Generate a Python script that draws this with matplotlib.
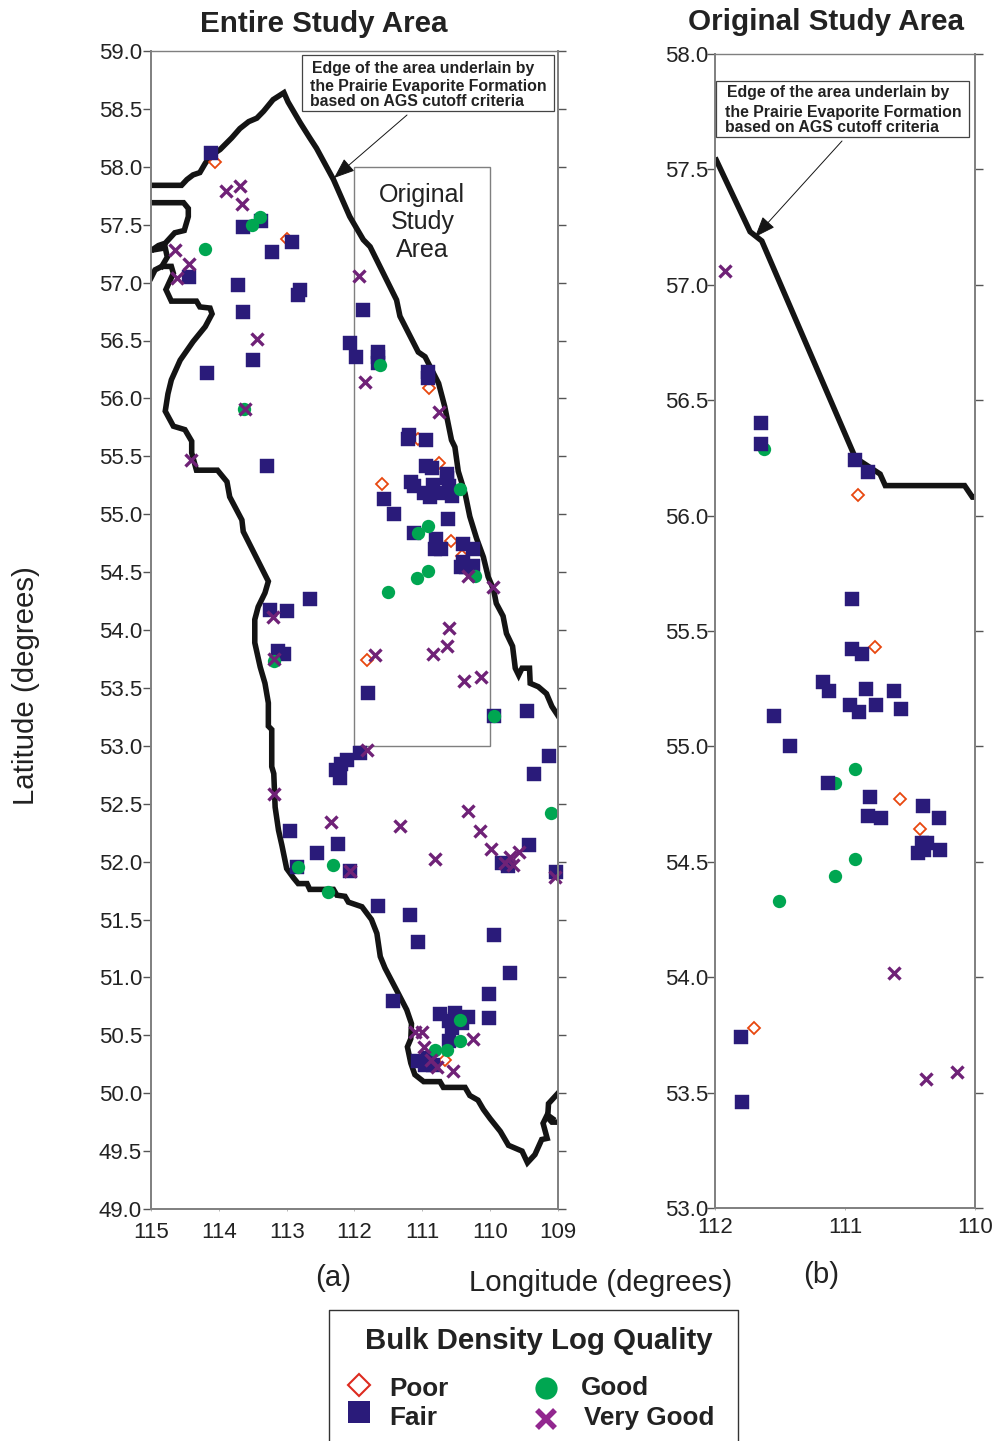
import matplotlib
matplotlib.use('Agg')
import matplotlib.pyplot as plt
from matplotlib.lines import Line2D
from matplotlib.patches import Rectangle

plt.rcParams['font.family'] = ['Liberation Sans', 'DejaVu Sans']

W, H = 995, 1441

# boundary of the formation, entire study area (lon, lat)
edge_east_lon = [115.0, 114.55, 114.47, 114.38, 114.28, 114.20, 114.13, 113.98, 113.81, 113.69, 113.56, 113.44,
                 113.34, 113.20, 113.04, 112.98, 112.80, 112.66, 112.56, 112.31, 112.07, 111.87, 111.77, 111.38,
                 111.33, 111.06, 110.96, 110.76, 110.67, 110.57, 110.52, 110.47, 110.37, 110.30, 110.20, 110.10,
                 110.03, 109.95, 109.91, 109.81, 109.76, 109.67, 109.63, 109.58, 109.53, 109.42, 109.41, 109.29,
                 109.17, 109.09, 109.00]
edge_east_lat = [57.84, 57.84, 57.89, 57.93, 57.95, 58.03, 58.09, 58.15, 58.25, 58.33, 58.39, 58.42,
                 58.48, 58.58, 58.64, 58.56, 58.38, 58.25, 58.16, 57.89, 57.57, 57.37, 57.31, 56.85,
                 56.71, 56.40, 56.36, 56.13, 55.93, 55.64, 55.58, 55.37, 55.18, 54.98, 54.79, 54.63,
                 54.46, 54.35, 54.23, 54.12, 53.97, 53.86, 53.67, 53.61, 53.67, 53.67, 53.54, 53.51,
                 53.45, 53.34, 53.26]
edge_north_lon = [115.0, 114.52, 114.45, 114.45, 114.51, 114.65, 114.79, 114.89, 114.99, 114.79, 114.76, 114.84]
edge_north_lat = [57.69, 57.69, 57.64, 57.57, 57.45, 57.43, 57.34, 57.32, 57.28, 57.30, 57.22, 57.14]
edge_west_lon = [115.0, 114.94, 114.84, 114.70, 114.67, 114.78, 114.70, 114.33, 114.28, 114.13, 114.10, 114.20,
                 114.38, 114.57, 114.70, 114.75, 114.79, 114.67, 114.50, 114.40, 114.40, 114.33, 114.02, 113.88,
                 113.84, 113.66, 113.64, 113.27, 113.32, 113.42, 113.47, 113.47, 113.39, 113.32, 113.27, 113.27,
                 113.22, 113.22, 113.19, 113.17, 113.12, 113.07, 113.00, 112.90, 112.83, 112.70, 112.66, 112.31,
                 112.26, 112.14, 112.09, 111.89, 111.75, 111.67, 111.62, 111.55, 111.38, 111.23, 111.16, 111.17,
                 111.22, 111.17, 111.11, 110.98, 110.74, 110.69, 110.37, 110.30, 110.18, 110.10, 110.00, 109.85,
                 109.73, 109.53, 109.45, 109.34, 109.24, 109.16, 109.22, 109.17, 109.09, 109.00]
edge_west_lat = [57.04, 57.11, 57.14, 57.14, 57.08, 56.94, 56.84, 56.84, 56.79, 56.78, 56.73, 56.62,
                 56.49, 56.33, 56.16, 56.04, 55.89, 55.76, 55.73, 55.63, 55.53, 55.38, 55.38, 55.28,
                 55.15, 54.95, 54.85, 54.42, 54.32, 54.20, 54.09, 53.89, 53.68, 53.54, 53.37, 53.17,
                 53.14, 52.82, 52.76, 52.47, 52.27, 52.14, 51.94, 51.86, 51.81, 51.81, 51.76, 51.76,
                 51.71, 51.70, 51.65, 51.61, 51.50, 51.38, 51.18, 51.08, 50.89, 50.72, 50.60, 50.47,
                 50.40, 50.26, 50.16, 50.10, 50.10, 50.05, 50.05, 49.98, 49.94, 49.86, 49.78, 49.67,
                 49.55, 49.50, 49.40, 49.47, 49.60, 49.61, 49.74, 49.80, 49.75, 49.75]
edge_south_lon = [109.00, 109.14, 109.15, 109.08]
edge_south_lat = [50.00, 49.91, 49.81, 49.78]

# entire study area wells
poor_a_lon = [114.06, 112.99, 110.90, 111.07, 110.76, 111.59, 110.58, 110.42, 111.81, 110.67]
poor_a_lat = [58.04, 57.38, 56.09, 55.65, 55.44, 55.26, 54.77, 54.64, 53.74, 50.29]

fair_a_lon = [114.12, 113.64, 113.38, 112.92, 113.21, 114.44, 113.72, 112.81, 112.84, 113.64, 111.87, 112.06,
              111.98, 111.65, 111.65, 111.65, 113.49, 114.18, 110.91, 110.91, 111.19, 111.21, 110.95, 113.29,
              110.95, 110.86, 110.63, 110.64, 111.17, 111.12, 110.84, 110.60, 110.98, 110.88, 110.76, 110.57,
              111.56, 111.42, 110.62, 111.13, 110.80, 110.82, 110.72, 110.40, 110.26, 110.40, 110.26, 110.43,
              110.35, 113.24, 113.00, 112.66, 113.13, 113.04, 111.80, 109.95, 109.45, 111.92, 112.11, 112.20,
              112.27, 112.21, 109.14, 109.35, 112.95, 112.24, 112.56, 112.85, 112.07, 111.65, 111.18, 111.07,
              109.95, 109.71, 110.02, 110.02, 111.43, 110.74, 110.52, 110.32, 110.52, 110.60, 110.41, 110.57,
              110.61, 111.06, 110.91, 110.96, 110.84, 109.83, 109.73, 109.43, 109.03]
fair_a_lat = [58.12, 57.48, 57.53, 57.35, 57.26, 57.05, 56.98, 56.94, 56.89, 56.75, 56.76, 56.48,
              56.36, 56.40, 56.36, 56.31, 56.33, 56.22, 56.23, 56.18, 55.68, 55.65, 55.64, 55.42,
              55.42, 55.40, 55.35, 55.31, 55.28, 55.24, 55.25, 55.24, 55.18, 55.15, 55.18, 55.16,
              55.13, 55.00, 54.96, 54.84, 54.79, 54.70, 54.70, 54.74, 54.70, 54.59, 54.55, 54.54,
              54.54, 54.17, 54.16, 54.27, 53.82, 53.79, 53.46, 53.26, 53.30, 52.94, 52.88, 52.84,
              52.79, 52.72, 52.91, 52.76, 52.26, 52.15, 52.07, 51.95, 51.92, 51.62, 51.54, 51.31,
              51.37, 51.04, 50.86, 50.65, 50.80, 50.68, 50.69, 50.66, 50.64, 50.62, 50.61, 50.56,
              50.45, 50.28, 50.30, 50.24, 50.24, 51.99, 51.96, 52.14, 51.91]

good_a_lon = [113.39, 113.51, 114.20, 113.63, 111.62, 110.44, 110.92, 111.06, 111.08, 110.92, 110.22, 111.51,
              113.19, 109.94, 109.11, 112.83, 112.31, 112.39, 110.44, 110.44, 110.64, 110.82]
good_a_lat = [57.57, 57.50, 57.29, 55.91, 56.29, 55.22, 54.90, 54.84, 54.45, 54.51, 54.47, 54.33,
              53.73, 53.26, 52.42, 51.95, 51.97, 51.74, 50.63, 50.45, 50.37, 50.37]

vgood_a_lon = [113.90, 113.69, 113.66, 114.64, 114.44, 114.62, 111.93, 113.43, 111.85, 110.75, 113.61, 114.41,
               110.33, 109.96, 113.20, 110.61, 110.63, 110.84, 111.70, 113.18, 110.38, 110.14, 111.81, 113.18,
               110.32, 112.35, 111.33, 110.15, 109.99, 110.81, 109.57, 109.71, 109.78, 109.66, 112.07, 109.05,
               111.11, 111.00, 110.98, 110.26, 110.87, 110.78, 110.55]
vgood_a_lat = [57.79, 57.83, 57.68, 57.28, 57.16, 57.04, 57.06, 56.51, 56.14, 55.88, 55.91, 55.47,
               54.47, 54.37, 54.11, 54.02, 53.86, 53.79, 53.78, 53.75, 53.56, 53.59, 52.96, 52.58,
               52.44, 52.34, 52.31, 52.26, 52.11, 52.02, 52.08, 52.04, 51.99, 51.97, 51.92, 51.87,
               50.53, 50.53, 50.40, 50.47, 50.29, 50.23, 50.19]

# original study area
edge_b_lon = [111.99, 111.73, 111.64, 110.92, 110.73, 110.69, 110.08, 110.02, 110.00]
edge_b_lat = [57.54, 57.23, 57.19, 56.25, 56.18, 56.13, 56.13, 56.08, 56.08]

poor_b_lon = [110.90, 110.77, 110.58, 110.42, 111.70]
poor_b_lat = [56.09, 55.43, 54.77, 54.64, 53.78]

fair_b_lon = [111.65, 111.65, 110.92, 110.82, 110.95, 110.95, 110.87, 111.17, 111.12, 110.84, 110.62, 110.96,
              110.89, 110.76, 110.57, 111.55, 111.42, 111.13, 110.81, 110.40, 110.82, 110.72, 110.28, 110.41,
              110.37, 110.44, 110.39, 110.27, 111.80, 111.79]
fair_b_lat = [56.40, 56.31, 56.24, 56.19, 55.64, 55.42, 55.40, 55.28, 55.24, 55.25, 55.24, 55.18,
              55.15, 55.18, 55.16, 55.13, 55.00, 54.84, 54.78, 54.74, 54.70, 54.69, 54.69, 54.58,
              54.58, 54.54, 54.55, 54.55, 53.74, 53.46]

good_b_lon = [111.62, 111.08, 110.92, 110.92, 111.08, 111.51]
good_b_lat = [56.29, 54.84, 54.90, 54.51, 54.44, 54.33]

vgood_b_lon = [111.92, 110.62, 110.38, 110.14]
vgood_b_lat = [57.06, 54.02, 53.56, 53.59]

x_ticks_a = [115, 114, 113, 112, 111, 110, 109]
y_ticks_a = [49 + 0.5 * i for i in range(21)]
x_ticks_b = [112, 111, 110]
y_ticks_b = [53 + 0.5 * i for i in range(11)]
note_text = ['Edge of the area underlain by', 'the Prairie Evaporite Formation', 'based on AGS cutoff criteria']

BLACK = '#141414'
TEXT = '#222222'
GRAY = '#7f7f7f'
POOR = '#E8470F'
FAIR = '#2A1B7A'
GOOD = '#00A651'
VGOOD = '#6F2277'


def fx(px):
    return px / W


def fy(py):
    return 1 - py / H


def make_axes(left, right, top, bottom):
    ax = fig.add_axes([fx(left), fy(bottom), (right - left) / W, (bottom - top) / H])
    for side in ax.spines:
        ax.spines[side].set_color(GRAY)
        ax.spines[side].set_linewidth(1.4)
    ax.spines['top'].set_linewidth(1.0)
    ax.tick_params(axis='y', left=True, right=True, direction='out', length=5.5, width=1, color='#555555',
                   pad=1, labelsize=16, labelcolor=TEXT)
    ax.tick_params(axis='x', top=False, bottom=True, direction='out', length=1.5, width=0.6, color='#aaaaaa',
                   pad=8, labelsize=16, labelcolor=TEXT)
    return ax


def plot_wells(ax, poor, fair, good, vgood, order):
    styles = {
        'poor': (poor, dict(marker='D', ms=6.2, mfc='white', mec=POOR, mew=1.3)),
        'fair': (fair, dict(marker='s', ms=9.4, mfc=FAIR, mec=FAIR, mew=0.3)),
        'good': (good, dict(marker='o', ms=9.6, mfc=GOOD, mec=GOOD, mew=0)),
        'vgood': (vgood, dict(marker='x', ms=8.2, mec=VGOOD, mew=2.4)),
    }
    for name in order:
        (lon, lat), style = styles[name]
        ax.plot(lon, lat, ls='none', clip_on=False, **style)


def add_note(left, right, top, bottom, text_x, text_y):
    fig.add_artist(Rectangle((fx(left), fy(bottom)), (right - left) / W, (bottom - top) / H,
                             transform=fig.transFigure, fc='white', ec='#444444', lw=0.9, zorder=5))
    for line, tx, ty in zip(note_text, text_x, text_y):
        fig.text(fx(tx), fy(ty), line, fontsize=11.4, fontweight='bold', color=TEXT, va='center', zorder=6)


def add_arrow(start, end):
    fig.add_artist(matplotlib.patches.FancyArrowPatch(
        (fx(start[0]), fy(start[1])), (fx(end[0]), fy(end[1])), transform=fig.transFigure,
        arrowstyle='-|>,head_length=13,head_width=5', color=BLACK, lw=0.7, shrinkA=0, shrinkB=0, zorder=6))


fig = plt.figure(figsize=(W / 100, H / 100), dpi=100)

# panel a
ax_a = make_axes(151, 558, 51, 1209)
ax_a.set_xlim(115, 109)
ax_a.set_ylim(49, 59)
ax_a.set_xticks(x_ticks_a)
ax_a.set_yticks(y_ticks_a)
ax_a.set_yticklabels([f'{v:.1f}' for v in y_ticks_a])
ax_a.add_patch(Rectangle((110, 53), 2, 5, fc='none', ec=GRAY, lw=1.0))
for lon, lat in [(edge_east_lon, edge_east_lat), (edge_north_lon, edge_north_lat),
                 (edge_west_lon, edge_west_lat), (edge_south_lon, edge_south_lat)]:
    ax_a.plot(lon, lat, color=BLACK, lw=4, solid_joinstyle='miter')
plot_wells(ax_a, (poor_a_lon, poor_a_lat), (fair_a_lon, fair_a_lat), (good_a_lon, good_a_lat),
           (vgood_a_lon, vgood_a_lat), ['poor', 'fair', 'good', 'vgood'])
ax_a.text(111, 57.52, 'Original\nStudy\nArea', fontsize=18, color=TEXT, ha='center', va='center', linespacing=1.2)

# panel b
ax_b = make_axes(715, 975, 54, 1208)
ax_b.set_xlim(112, 110)
ax_b.set_ylim(53, 58)
ax_b.set_xticks(x_ticks_b)
ax_b.set_yticks(y_ticks_b)
ax_b.set_yticklabels([f'{v:.1f}' for v in y_ticks_b])
ax_b.tick_params(axis='y', pad=-1)
ax_b.tick_params(axis='x', pad=5)
ax_b.plot(edge_b_lon, edge_b_lat, color=BLACK, lw=4, solid_joinstyle='miter')
plot_wells(ax_b, (poor_b_lon, poor_b_lat), (fair_b_lon, fair_b_lat), (good_b_lon, good_b_lat),
           (vgood_b_lon, vgood_b_lat), ['poor', 'good', 'fair', 'vgood'])

# titles and axis labels
fig.text(fx(323.5), fy(24), 'Entire Study Area', fontsize=21.3, fontweight='bold', color=TEXT, ha='center', va='center')
fig.text(fx(825.5), fy(22), 'Original Study Area', fontsize=21.3, fontweight='bold', color=TEXT, ha='center', va='center')
fig.text(fx(26), fy(686), 'Latitude (degrees)', fontsize=21.2, color=TEXT, rotation=90, ha='center', va='center')
fig.text(fx(601), fy(1283), 'Longitude (degrees)', fontsize=21.2, color=TEXT, ha='center', va='center')
fig.text(fx(333), fy(1278), '(a)', fontsize=21.2, color=TEXT, ha='center', va='center')
fig.text(fx(821), fy(1275), '(b)', fontsize=21.2, color=TEXT, ha='center', va='center')

# callouts
add_note(302, 554, 55, 111, [312, 310, 310], [68, 86, 102])
add_arrow((407, 115), (334, 178))
add_note(716, 969, 81, 137, [727, 725, 725], [92, 112, 128])
add_arrow((842, 141), (755, 237))

# legend
fig.add_artist(Line2D([fx(329), fx(329), fx(738), fx(738)], [fy(1441), fy(1310), fy(1310), fy(1441)],
                      transform=fig.transFigure, color='#333333', lw=1.0))
fig.text(fx(365), fy(1341), 'Bulk Density Log Quality', fontsize=21.2, fontweight='bold', color=TEXT, va='center')
fig.add_artist(Line2D([fx(359)], [fy(1385)], transform=fig.transFigure, marker='D', ms=11, mfc='white',
                      mec='#DD2A1F', mew=1.5, ls='none'))
fig.add_artist(Line2D([fx(359)], [fy(1412)], transform=fig.transFigure, marker='s', ms=15.5, mfc=FAIR,
                      mec=FAIR, mew=0, ls='none'))
fig.add_artist(Line2D([fx(546)], [fy(1388)], transform=fig.transFigure, marker='o', ms=16, mfc=GOOD,
                      mec=GOOD, mew=0, ls='none'))
fig.add_artist(Line2D([fx(546)], [fy(1419)], transform=fig.transFigure, marker='x', ms=13.5, mec='#92278F',
                      mew=4, ls='none'))
for label, lx, ly in [('Poor', 389, 1389), ('Fair', 389, 1418), ('Good', 581, 1388), ('Very Good', 584, 1418)]:
    fig.text(fx(lx), fy(ly), label, fontsize=18.8, fontweight='bold', color=TEXT, va='center')

fig.savefig('out.png', dpi=100)
